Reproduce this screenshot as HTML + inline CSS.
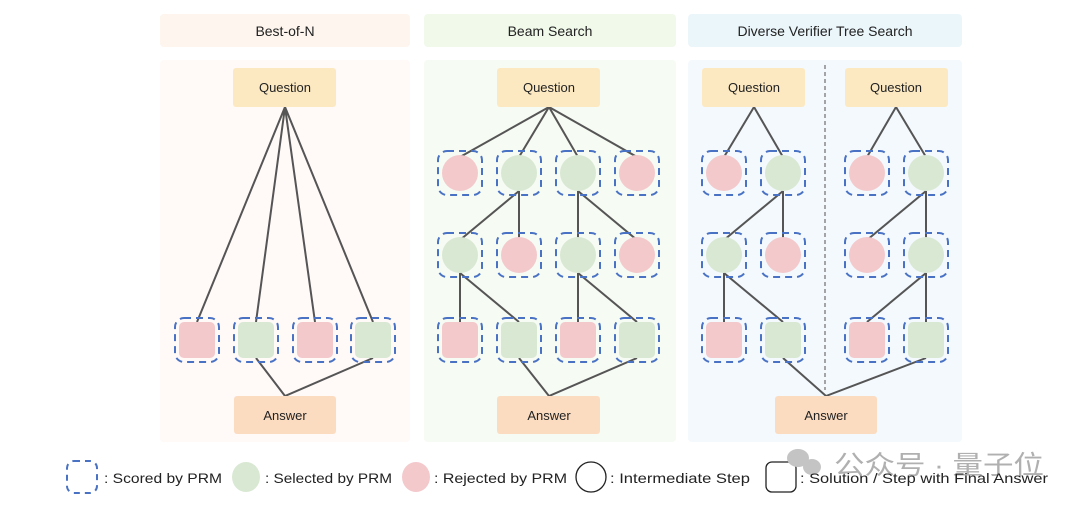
<!DOCTYPE html>
<html><head><meta charset="utf-8"><style>
body{margin:0;width:1080px;height:508px;background:#fff;overflow:hidden}
svg text{font-family:"Liberation Sans","Noto Sans CJK SC",sans-serif}
</style></head><body>
<svg width="1080" height="508" xmlns="http://www.w3.org/2000/svg">
<defs>
<g id="db"><rect x="-22" y="-22" width="44" height="44" rx="9" fill="none" stroke="#4a72c4" stroke-width="2" stroke-dasharray="7,5"/></g>
<g id="rc"><circle r="18" fill="#f3c9cc"/><use href="#db"/></g>
<g id="gc"><circle r="18" fill="#d9e8d3"/><use href="#db"/></g>
<g id="rs"><rect x="-18" y="-18" width="36" height="36" rx="5" fill="#f3c9cc"/><use href="#db"/></g>
<g id="gs"><rect x="-18" y="-18" width="36" height="36" rx="5" fill="#d9e8d3"/><use href="#db"/></g>
</defs>
<rect x="160" y="14" width="250" height="33" rx="4" fill="#fdf5ee"/>
<rect x="424" y="14" width="252" height="33" rx="4" fill="#f0f9ea"/>
<rect x="688" y="14" width="274" height="33" rx="4" fill="#ebf6fb"/>
<text x="285" y="36" font-size="14" text-anchor="middle" fill="#222">Best-of-N</text>
<text x="550" y="36" font-size="14" text-anchor="middle" fill="#222">Beam Search</text>
<text x="825" y="36" font-size="14" text-anchor="middle" fill="#222">Diverse Verifier Tree Search</text>
<rect x="160" y="60" width="250" height="382" rx="4" fill="#fff9f7"/>
<rect x="424" y="60" width="252" height="382" rx="4" fill="#f6fbf3"/>
<rect x="688" y="60" width="274" height="382" rx="4" fill="#f3f9fd"/>
<g stroke="#555" stroke-width="2" fill="none">
<path d="M285 107L197 322M285 107L256 322M285 107L315 322M285 107L373 322M256 358L285 396L373 358"/>
<path d="M549 107L460 157M549 107L519 157M549 107L578 157M549 107L637 157"/>
<path d="M519 191L460 240M519 191L519 240M578 191L578 240M578 191L637 240"/>
<path d="M460 273L460 322M460 273L519 322M578 273L578 322M578 273L637 322"/>
<path d="M519 358L549 396L637 358"/>
<path d="M754 107L724 157M754 107L783 157M783 191L724 240M783 191L783 240M724 273L724 322M724 273L783 322M783 358L826 396L926 358"/>
<path d="M896 107L867 157M896 107L926 157M926 191L867 240M926 191L926 240M926 273L867 322M926 273L926 322"/>
</g>
<line x1="825" y1="65" x2="825" y2="390" stroke="#888" stroke-width="1.5" stroke-dasharray="4,3"/>
<g font-size="13" text-anchor="middle" fill="#222">
<rect x="233" y="68" width="103" height="39" rx="3" fill="#fde9c1"/><text x="285" y="92">Question</text>
<rect x="497" y="68" width="103" height="39" rx="3" fill="#fde9c1"/><text x="549" y="92">Question</text>
<rect x="702" y="68" width="103" height="39" rx="3" fill="#fde9c1"/><text x="754" y="92">Question</text>
<rect x="845" y="68" width="103" height="39" rx="3" fill="#fde9c1"/><text x="896" y="92">Question</text>
<rect x="234" y="396" width="102" height="38" rx="3" fill="#fbdcc1"/><text x="285" y="420">Answer</text>
<rect x="497" y="396" width="103" height="38" rx="3" fill="#fbdcc1"/><text x="549" y="420">Answer</text>
<rect x="775" y="396" width="102" height="38" rx="3" fill="#fbdcc1"/><text x="826" y="420">Answer</text>
</g>
<use href="#rs" x="197" y="340"/><use href="#gs" x="256" y="340"/><use href="#rs" x="315" y="340"/><use href="#gs" x="373" y="340"/>
<use href="#rc" x="460" y="173"/><use href="#gc" x="519" y="173"/><use href="#gc" x="578" y="173"/><use href="#rc" x="637" y="173"/>
<use href="#gc" x="460" y="255"/><use href="#rc" x="519" y="255"/><use href="#gc" x="578" y="255"/><use href="#rc" x="637" y="255"/>
<use href="#rs" x="460" y="340"/><use href="#gs" x="519" y="340"/><use href="#rs" x="578" y="340"/><use href="#gs" x="637" y="340"/>
<use href="#rc" x="724" y="173"/><use href="#gc" x="783" y="173"/><use href="#rc" x="867" y="173"/><use href="#gc" x="926" y="173"/>
<use href="#gc" x="724" y="255"/><use href="#rc" x="783" y="255"/><use href="#rc" x="867" y="255"/><use href="#gc" x="926" y="255"/>
<use href="#rs" x="724" y="340"/><use href="#gs" x="783" y="340"/><use href="#rs" x="867" y="340"/><use href="#gs" x="926" y="340"/>
<rect x="67" y="461" width="30" height="32" rx="7" fill="none" stroke="#4a72c4" stroke-width="2" stroke-dasharray="6,5"/>
<text x="104" y="483" font-size="14" fill="#222" textLength="118" lengthAdjust="spacingAndGlyphs">: Scored by PRM</text>
<ellipse cx="246" cy="477" rx="14" ry="15" fill="#d9e8d3"/>
<text x="265" y="483" font-size="14" fill="#222" textLength="127" lengthAdjust="spacingAndGlyphs">: Selected by PRM</text>
<ellipse cx="416" cy="477" rx="14" ry="15" fill="#f3c9cc"/>
<text x="434" y="483" font-size="14" fill="#222" textLength="133" lengthAdjust="spacingAndGlyphs">: Rejected by PRM</text>
<circle cx="591" cy="477" r="15" fill="none" stroke="#222" stroke-width="1.3"/>
<text x="610" y="483" font-size="14" fill="#222" textLength="140" lengthAdjust="spacingAndGlyphs">: Intermediate Step</text>
<rect x="766" y="462" width="30" height="30" rx="6" fill="none" stroke="#222" stroke-width="1.3"/>
<g fill="#c4c4c4"><ellipse cx="798" cy="458" rx="11" ry="9"/><ellipse cx="812" cy="467" rx="9" ry="8"/></g>
<text x="834" y="474" font-size="26" fill="#b0b0b0" textLength="210" lengthAdjust="spacingAndGlyphs">公众号 · 量子位</text>
<text x="800" y="483" font-size="14" fill="#222" textLength="248" lengthAdjust="spacingAndGlyphs">: Solution / Step with Final Answer</text>
</svg>
</body></html>
